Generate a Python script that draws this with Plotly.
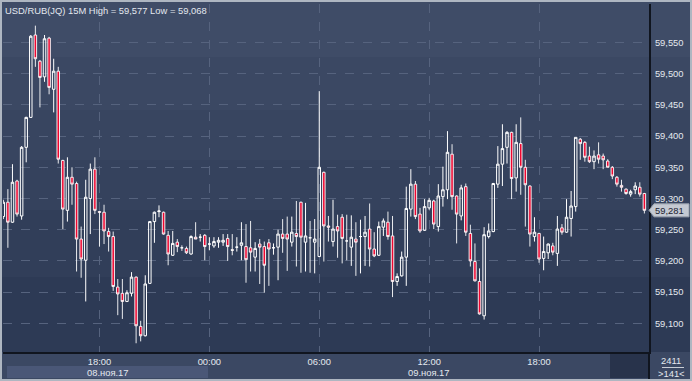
import plotly.graph_objects as go
import pandas as pd

# ---------------- data ----------------
start_time = "2017-11-08 12:45"
n_bars = 141
times = pd.date_range(start_time, periods=n_bars, freq="15min")

open_ = [59.271, 59.294, 59.262, 59.328, 59.272, 59.382, 59.430, 59.562, 59.520, 59.495,
         59.557, 59.475, 59.504, 59.361, 59.281, 59.334, 59.324, 59.235, 59.201, 59.300,
         59.347, 59.279, 59.278, 59.247, 59.239, 59.158, 59.148, 59.135, 59.148, 59.174,
         59.095, 59.080, 59.164, 59.263, 59.279, 59.278, 59.241, 59.209, 59.230, 59.221,
         59.220, 59.211, 59.238, 59.238, 59.241, 59.227, 59.224, 59.230, 59.230, 59.236,
         59.218, 59.222, 59.225, 59.223, 59.221, 59.206, 59.227, 59.223, 59.229, 59.221,
         59.222, 59.243, 59.243, 59.230, 59.244, 59.294, 59.230, 59.237, 59.230, 59.207,
         59.342, 59.256, 59.231, 59.255, 59.270, 59.232, 59.222, 59.235, 59.239, 59.239,
         59.251, 59.219, 59.209, 59.254, 59.262, 59.240, 59.167, 59.176, 59.206, 59.283,
         59.323, 59.275, 59.249, 59.285, 59.296, 59.255, 59.303, 59.314, 59.371, 59.304,
         59.272, 59.319, 59.244, 59.199, 59.167, 59.112, 59.239, 59.247, 59.323, 59.355,
         59.382, 59.406, 59.333, 59.388, 59.350, 59.320, 59.239, 59.244, 59.204, 59.213,
         59.224, 59.212, 59.253, 59.246, 59.268, 59.287, 59.395, 59.390, 59.368, 59.359,
         59.370, 59.368, 59.360, 59.350, 59.334, 59.321, 59.315, 59.307, 59.314, 59.318,
         59.308]
high = [59.298, 59.315, 59.355, 59.330, 59.384, 59.431, 59.562, 59.577, 59.522, 59.562,
        59.559, 59.524, 59.511, 59.362, 59.366, 59.350, 59.327, 59.255, 59.330, 59.356,
        59.366, 59.280, 59.290, 59.253, 59.247, 59.171, 59.171, 59.153, 59.182, 59.175,
        59.104, 59.177, 59.264, 59.279, 59.289, 59.279, 59.248, 59.248, 59.235, 59.225,
        59.223, 59.241, 59.262, 59.243, 59.243, 59.238, 59.238, 59.238, 59.243, 59.243,
        59.243, 59.238, 59.262, 59.259, 59.264, 59.230, 59.235, 59.231, 59.235, 59.228,
        59.250, 59.267, 59.271, 59.271, 59.296, 59.295, 59.293, 59.264, 59.267, 59.472,
        59.343, 59.272, 59.298, 59.274, 59.275, 59.274, 59.273, 59.262, 59.266, 59.272,
        59.292, 59.246, 59.263, 59.268, 59.279, 59.272, 59.180, 59.215, 59.319, 59.347,
        59.328, 59.285, 59.299, 59.301, 59.298, 59.323, 59.351, 59.408, 59.387, 59.305,
        59.322, 59.324, 59.258, 59.228, 59.188, 59.254, 59.260, 59.325, 59.384, 59.419,
        59.408, 59.407, 59.419, 59.430, 59.362, 59.321, 59.270, 59.245, 59.239, 59.228,
        59.229, 59.272, 59.259, 59.299, 59.312, 59.398, 59.397, 59.392, 59.383, 59.377,
        59.390, 59.372, 59.363, 59.352, 59.336, 59.330, 59.316, 59.314, 59.326, 59.326,
        59.309]
low = [59.267, 59.221, 59.261, 59.271, 59.266, 59.358, 59.429, 59.511, 59.446, 59.487,
       59.467, 59.438, 59.356, 59.251, 59.263, 59.290, 59.183, 59.173, 59.135, 59.243,
       59.275, 59.223, 59.227, 59.215, 59.152, 59.113, 59.107, 59.134, 59.143, 59.068,
       59.071, 59.079, 59.163, 59.229, 59.270, 59.242, 59.193, 59.208, 59.214, 59.216,
       59.211, 59.210, 59.235, 59.231, 59.201, 59.217, 59.221, 59.221, 59.224, 59.200,
       59.209, 59.215, 59.201, 59.165, 59.183, 59.183, 59.163, 59.149, 59.160, 59.210,
       59.169, 59.213, 59.184, 59.223, 59.191, 59.181, 59.183, 59.181, 59.180, 59.206,
       59.199, 59.231, 59.223, 59.205, 59.196, 59.201, 59.192, 59.176, 59.180, 59.192,
       59.191, 59.206, 59.208, 59.240, 59.234, 59.142, 59.160, 59.175, 59.160, 59.271,
       59.267, 59.245, 59.248, 59.282, 59.251, 59.247, 59.287, 59.299, 59.282, 59.228,
       59.265, 59.240, 59.191, 59.167, 59.114, 59.106, 59.236, 59.246, 59.317, 59.320,
       59.356, 59.299, 59.311, 59.306, 59.255, 59.223, 59.231, 59.197, 59.185, 59.203,
       59.209, 59.192, 59.242, 59.245, 59.239, 59.279, 59.362, 59.359, 59.357, 59.347,
       59.356, 59.347, 59.350, 59.331, 59.319, 59.311, 59.306, 59.303, 59.307, 59.303,
       59.276]
close = [59.294, 59.262, 59.326, 59.275, 59.382, 59.430, 59.560, 59.524, 59.494, 59.556,
         59.478, 59.504, 59.363, 59.283, 59.334, 59.323, 59.235, 59.203, 59.302, 59.347,
         59.281, 59.278, 59.248, 59.239, 59.159, 59.147, 59.135, 59.149, 59.174, 59.096,
         59.080, 59.163, 59.263, 59.278, 59.280, 59.243, 59.211, 59.228, 59.223, 59.221,
         59.213, 59.239, 59.235, 59.238, 59.223, 59.227, 59.231, 59.233, 59.233, 59.223,
         59.217, 59.222, 59.229, 59.202, 59.214, 59.220, 59.222, 59.193, 59.219, 59.221,
         59.243, 59.236, 59.235, 59.246, 59.239, 59.238, 59.240, 59.237, 59.235, 59.350,
         59.256, 59.254, 59.251, 59.248, 59.236, 59.232, 59.238, 59.230, 59.239, 59.246,
         59.219, 59.208, 59.255, 59.264, 59.239, 59.167, 59.175, 59.206, 59.284, 59.323,
         59.271, 59.248, 59.287, 59.297, 59.259, 59.304, 59.314, 59.374, 59.303, 59.275,
         59.317, 59.246, 59.200, 59.168, 59.115, 59.242, 59.248, 59.324, 59.355, 59.380,
         59.406, 59.332, 59.390, 59.350, 59.322, 59.243, 59.246, 59.203, 59.215, 59.227,
         59.214, 59.251, 59.246, 59.270, 59.288, 59.398, 59.388, 59.366, 59.359, 59.368,
         59.363, 59.362, 59.350, 59.336, 59.323, 59.318, 59.308, 59.311, 59.320, 59.307,
         59.281]

tick_times = ["2017-11-08 18:00", "2017-11-09 00:00", "2017-11-09 06:00",
              "2017-11-09 12:00", "2017-11-09 18:00"]
tick_labels = ["18:00", "00:00", "06:00", "12:00", "18:00"]
price_ticks = [59.10, 59.15, 59.20, 59.25, 59.30, 59.35, 59.40, 59.45, 59.50, 59.55]

title_text = "USD/RUB(JQ) 15M High = 59,577 Low = 59,068"
date_labels = ["08.ноя.17", "09.ноя.17"]
last_price_label = "59,281"
bar_count_labels = ["2411", ">141<"]

# ---------------- layout helpers ----------------
W, H = 692, 381
L, R, T, B = 3, 43, 4, 29
PW, PH = W - L - R, H - T - B


def px(x):
    return (x - L) / PW


def py(y):
    return (H - B - y) / PH


FONT = "Liberation Sans, Arial, sans-serif"
FS = 9.4
TXT = "#e4e8ef"

fig = go.Figure()
fig.add_trace(go.Candlestick(
    x=times, open=open_, high=high, low=low, close=close,
    increasing=dict(line=dict(color="#ffffff", width=1), fillcolor="rgba(0,0,0,0)"),
    decreasing=dict(line=dict(color="#ffffff", width=0.9), fillcolor="#ee0630"),
    whiskerwidth=0, hoverinfo="skip", showlegend=False,
))

shapes = []
bands = [(0, 57, "#3f4c67"), (57, 110, "#3b4863"), (110, 160, "#384560"),
         (160, 210, "#35425d"), (210, 277, "#313e59"), (277, 352, "#2d3a55")]
for y0, y1, c in bands:
    shapes.append(dict(type="rect", xref="paper", yref="paper", layer="below",
                       x0=px(0), x1=px(W), y0=py(y1), y1=py(y0),
                       fillcolor=c, line=dict(width=0)))
shapes.append(dict(type="rect", xref="paper", yref="paper", layer="below",
                   x0=px(0), x1=px(W), y0=py(H), y1=py(352),
                   fillcolor="#3b4863", line=dict(width=0)))
shapes.append(dict(type="rect", xref="paper", yref="paper", layer="below",
                   x0=px(7), x1=px(208), y0=py(378), y1=py(366),
                   fillcolor="#4a5777", line=dict(width=0)))
shapes.append(dict(type="rect", xref="paper", yref="paper", layer="below",
                   x0=px(610), x1=px(648), y0=py(378), y1=py(353),
                   fillcolor="#28334b", line=dict(width=0)))
# separator between time axis and counter box
shapes.append(dict(type="line", xref="paper", yref="paper",
                   x0=px(649), x1=px(649), y0=py(379), y1=py(352),
                   line=dict(color="#10151f", width=2)))
shapes.append(dict(type="line", xref="paper", yref="paper",
                   x0=px(662), x1=px(684), y0=py(367.5), y1=py(367.5),
                   line=dict(color="#c8cdd6", width=1)))
shapes.append(dict(type="rect", xref="paper", yref="paper",
                   x0=px(1), x1=px(W - 1), y0=py(H - 1), y1=py(1),
                   line=dict(color="#aeb6c1", width=2), fillcolor="rgba(0,0,0,0)"))
last_close = close[-1]
dy = 6.5 / 624
shapes.append(dict(type="path", xref="paper", yref="y",
                   path=f"M {px(649)},{last_close} L {px(654)},{last_close + dy} "
                        f"L {px(689)},{last_close + dy} L {px(689)},{last_close - dy} "
                        f"L {px(654)},{last_close - dy} Z",
                   fillcolor="#c4c9d2", line=dict(color="#9aa2ae", width=1)))

annotations = [
    dict(text=title_text, xref="paper", yref="paper", x=px(3), y=py(10),
         xanchor="left", yanchor="middle", showarrow=False,
         font=dict(family=FONT, size=FS, color=TXT)),
    dict(text=date_labels[0], xref="paper", yref="paper", x=px(108), y=py(372),
         xanchor="center", yanchor="middle", showarrow=False,
         font=dict(family=FONT, size=FS, color=TXT)),
    dict(text=date_labels[1], xref="paper", yref="paper", x=px(429), y=py(372),
         xanchor="center", yanchor="middle", showarrow=False,
         font=dict(family=FONT, size=FS, color=TXT)),
    dict(text=bar_count_labels[0], xref="paper", yref="paper", x=px(671), y=py(360),
         xanchor="center", yanchor="middle", showarrow=False,
         font=dict(family=FONT, size=FS, color=TXT)),
    dict(text=bar_count_labels[1], xref="paper", yref="paper", x=px(671), y=py(373),
         xanchor="center", yanchor="middle", showarrow=False,
         font=dict(family=FONT, size=FS, color=TXT)),
    dict(text=last_price_label, xref="paper", yref="y", x=px(653), y=last_close,
         xanchor="left", yanchor="middle", showarrow=False,
         font=dict(family=FONT, size=FS, color="#1b2231")),
]

fig.update_layout(
    width=W, height=H,
    margin=dict(l=L, r=R, t=T, b=B, pad=0),
    paper_bgcolor="#34415c", plot_bgcolor="rgba(0,0,0,0)",
    separators=", ",
    font=dict(family=FONT, size=FS, color=TXT),
    shapes=shapes, annotations=annotations,
    showlegend=False, boxgap=0.22,
    xaxis=dict(
        type="date",
        range=["2017-11-08 12:44:00", "2017-11-10 00:00:09"],
        rangeslider=dict(visible=False),
        tickmode="array", tickvals=tick_times, ticktext=tick_labels,
        showgrid=True, gridcolor="#56637e", griddash="dash", gridwidth=1,
        showline=True, linecolor="#10151f", linewidth=2,
        ticks="", ticklabelstandoff=0,
        tickfont=dict(family=FONT, size=FS, color=TXT),
        zeroline=False, fixedrange=True, automargin=False,
    ),
    yaxis=dict(
        side="right",
        range=[59.0540, 59.6117],
        tickmode="array", tickvals=price_ticks, tickformat=".3f",
        showgrid=True, gridcolor="#56637e", griddash="dash", gridwidth=1,
        showline=True, linecolor="#10151f", linewidth=2,
        ticks="", ticklabelstandoff=2,
        tickfont=dict(family=FONT, size=FS, color=TXT),
        zeroline=False, fixedrange=True, automargin=False,
    ),
)

fig.write_html(
    "out.html",
    config={"displayModeBar": False, "staticPlot": True},
    post_script="document.body.style.margin='0';document.body.style.padding='0';",
)
